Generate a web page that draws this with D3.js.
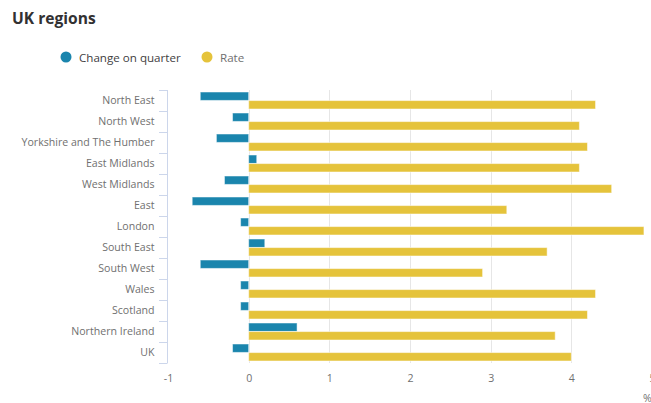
<!DOCTYPE html>
<html><head><meta charset="utf-8">
<script src="https://cdn.jsdelivr.net/npm/d3@7"></script>
<style>
body{margin:0;background:#fff;}
svg{display:block;font-family:"Open Sans",sans-serif;}
</style></head>
<body><svg id="c" width="651" height="403"></svg>
<script>
const categories = ["North East","North West","Yorkshire and The Humber","East Midlands","West Midlands","East","London","South East","South West","Wales","Scotland","Northern Ireland","UK"];
const changeOnQuarter = [-0.6,-0.2,-0.4,0.1,-0.3,-0.7,-0.1,0.2,-0.6,-0.1,-0.1,0.6,-0.2];
const rate = [4.3,4.1,4.2,4.1,4.5,3.2,4.9,3.7,2.9,4.3,4.2,3.8,4.0];
const xTicks = [-1,0,1,2,3,4,5];
const seriesNames = ["Change on quarter","Rate"];
const seriesColors = ["#1a85ad","#e5c33b"];

const svg = d3.select("#c");
const x = d3.scaleLinear().domain([-1,5]).range([168,652]);
const y = d3.scaleBand().domain(categories).range([90,363]).paddingInner(0).paddingOuter(0);
const sub = d3.scaleBand().domain(seriesNames).range([2, y.bandwidth()-2]).paddingInner(0.02);

// title
svg.append("text").attr("x",12).attr("y",24).attr("font-size",15.6).attr("font-weight",700)
  .attr("fill","#323132").text("UK regions");

// legend
const legX = [66,207];
seriesNames.forEach((n,i)=>{
  svg.append("circle").attr("cx",legX[i]).attr("cy",57).attr("r",5.5).attr("fill",seriesColors[i]);
  svg.append("text").attr("x",legX[i]+13).attr("y",61.5).attr("font-size",11.6)
    .attr("fill", i===0?"#414042":"#707070").text(n);
});

// gridlines
svg.append("g").selectAll("line").data(xTicks.filter(t=>t>=0)).join("line")
  .attr("x1",d=>Math.round(x(d))+0.5).attr("x2",d=>Math.round(x(d))+0.5)
  .attr("y1",90).attr("y2",363).attr("stroke","#e6e6e6").attr("stroke-width",1);

// x axis labels
const xa = svg.append("g").attr("transform","translate(0,363)")
  .call(d3.axisBottom(x).tickValues(xTicks).tickSize(0).tickFormat(d=>String(d)));
xa.select(".domain").remove();
xa.selectAll("text").attr("dy",0).attr("y",19).attr("font-family","Open Sans").attr("font-size",10.6).attr("fill","#707070");
svg.append("text").attr("x",643).attr("y",402).attr("font-size",10.6).attr("fill","#707070").text("%");

// y axis
const ya = svg.append("g").attr("transform","translate(167.5,0)")
  .call(d3.axisLeft(y).tickSize(0).tickPadding(13));
ya.select(".domain").attr("stroke","#ccd6eb").attr("d","M0,90V363");
ya.selectAll("text").attr("font-family","Open Sans").attr("font-size",10.6).attr("fill","#707070");
// category boundary ticks
svg.append("g").selectAll("line").data(d3.range(categories.length+1)).join("line")
  .attr("x1",159).attr("x2",167.5)
  .attr("y1",i=>Math.round(90+i*y.step())+0.5).attr("y2",i=>Math.round(90+i*y.step())+0.5)
  .attr("stroke","#ccd6eb");

// bars
const series = [changeOnQuarter, rate];
series.forEach((vals,si)=>{
  svg.append("g").selectAll("rect").data(vals).join("rect")
    .attr("x",d=>x(Math.min(0,d)))
    .attr("width",d=>Math.abs(x(d)-x(0)))
    .attr("y",(d,i)=>y(categories[i])+sub(seriesNames[si]))
    .attr("height",sub.bandwidth())
    .attr("fill",seriesColors[si])
    .attr("stroke","#ffffff").attr("stroke-opacity",0.5).attr("stroke-width",1);
});
</script></body></html>
